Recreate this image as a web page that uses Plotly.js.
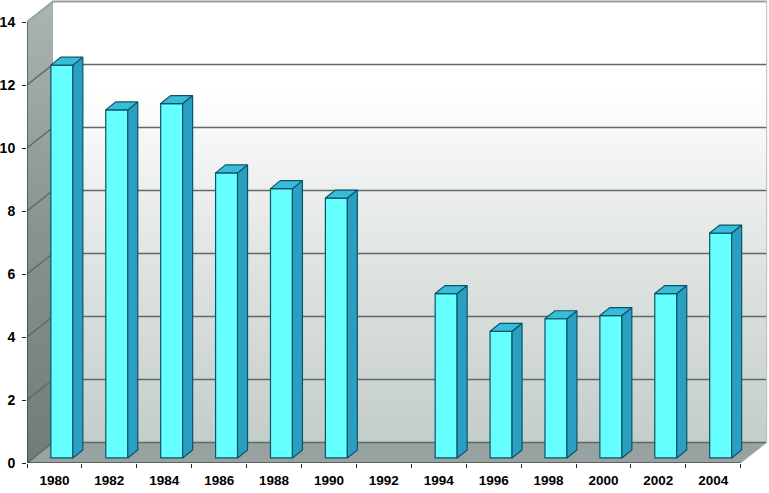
<!DOCTYPE html>
<html><head><meta charset="utf-8">
<script src="https://cdn.plot.ly/plotly-3.0.1.min.js"></script>
<style>html,body{margin:0;padding:0;background:#fff}#c{width:769px;height:493px}</style>
</head><body><div id="c"></div>
<script>
const years=['1980','1982','1984','1986','1988','1990','1992','1994','1996','1998','2000','2002','2004'];
const values=[12.47,11.05,11.25,9.05,8.55,8.25,null,5.22,4.02,4.42,4.52,5.22,7.14];
const yTicks=[0,2,4,6,8,10,12,14];

const xIdx=years.map((_,i)=>i);
const boundaries=years.concat(['']).map((_,i)=>i-0.5);
const pxX=54.9, pxY=31.5;
const depthX=26/pxX, depthY=20.5/pxY;        // wall depth
const barDX=10/pxX, barDY=8/pxY;             // bar depth
const base=0.16, off=-0.065, w=0.4;          // bar base, offset from slot start
const xr=[-0.5,(769-27)/pxX-0.5], yr=[0,463/pxY];
const x0=-0.5,x1=12.5,yTop=14;

function poly(pts){return {x:pts.map(p=>p[0]),y:pts.map(p=>p[1])};}
function wall(pts,fill,extra){const p=poly(pts.concat([pts[0]]));
  return Object.assign({type:'scatter',mode:'lines',x:p.x,y:p.y,fill:'toself',line:{width:0},hoverinfo:'skip',showlegend:false,fillcolor:fill},extra||{});}

const traces=[];
// back wall
traces.push(wall([[x0+depthX,depthY],[x1+depthX,depthY],[x1+depthX,yTop+depthY],[x0+depthX,yTop+depthY]],'#fff',
 {fillgradient:{type:'vertical',colorscale:[[0,'#c3cdca'],[0.45,'#e2e6e5'],[0.8,'#ffffff'],[1,'#ffffff']]}}));
// left wall
traces.push(wall([[x0,0],[x0+depthX,depthY],[x0+depthX,yTop+depthY],[x0,yTop]],'#999',
 {fillgradient:{type:'vertical',colorscale:[[0,'#6f7c79'],[0.5,'#87938f'],[1,'#aab5b4']]}}));
// floor
traces.push(wall([[x0,0],[x1,0],[x1+depthX,depthY],[x0+depthX,depthY]],'#98a2a0'));
// gridlines on walls
const gx=[],gy=[];
yTicks.filter(v=>v<14).forEach(v=>{gx.push(x0,x0+depthX,x1+depthX,null);gy.push(v,v+depthY,v+depthY,null);});
traces.push({type:'scatter',mode:'lines',x:gx,y:gy,line:{color:'#5d6a68',width:1.4},hoverinfo:'skip',showlegend:false});
// top edge of the wall
traces.push({type:'scatter',mode:'lines',x:[x0,x0+depthX,x1+depthX],y:[yTop,yTop+depthY,yTop+depthY],line:{color:'#98a3a1',width:2},hoverinfo:'skip',showlegend:false});
// frame edges
traces.push({type:'scatter',mode:'lines',x:[x1+depthX,x1+depthX,null,x1,x1+depthX],y:[depthY,yTop+depthY,null,0,depthY],
 line:{color:'#b4bdbb',width:1},hoverinfo:'skip',showlegend:false});
// axis lines
traces.push({type:'scatter',mode:'lines',x:[x0,x0,null,x0,x1],y:[yTop,0,null,0,0],line:{color:'#222',width:1},hoverinfo:'skip',showlegend:false});

// bars: front
traces.push({type:'bar',x:xIdx,y:values,base:base,offset:off,width:w,xaxis:'x2',yaxis:'y2',
  marker:{color:'#66ffff',line:{color:'#0a5468',width:1.2}},hoverinfo:'skip',showlegend:false});
// bars: side and top faces
function faces(fn){const X=[],Y=[];values.forEach((v,i)=>{if(v===null)return;
  const l=i+off,r=l+w,t=v+base;
  fn(l,r,t).concat([fn(l,r,t)[0]]).forEach(p=>{X.push(p[0]);Y.push(p[1]);});X.push(null);Y.push(null);});return {X,Y};}
const side=faces((l,r,t)=>[[r,base],[r+barDX,base+barDY],[r+barDX,t+barDY],[r,t]]);
const topf=faces((l,r,t)=>[[l,t],[r,t],[r+barDX,t+barDY],[l+barDX,t+barDY]]);
[[side,'#2b9fc2'],[topf,'#38bcd8']].forEach(([f,c])=>traces.push({type:'scatter',mode:'lines',x:f.X,y:f.Y,fill:'toself',fillcolor:c,
  line:{color:'#0a5468',width:1.2},xaxis:'x2',yaxis:'y2',hoverinfo:'skip',showlegend:false}));

const font={family:'"Liberation Sans",Arial,sans-serif',size:13.5,color:'#000'};
Plotly.newPlot('c',traces,{
  width:769,height:493,showlegend:false,paper_bgcolor:'#fff',plot_bgcolor:'rgba(0,0,0,0)',
  margin:{l:27,r:0,t:0,b:30},
  xaxis:{type:'linear',range:xr,tickmode:'array',tickvals:xIdx,ticktext:years.map(y=>'<b>'+y+'</b>'),ticks:'',showgrid:false,zeroline:false,ticklabelstandoff:7,
    tickfont:font,minor:{tickmode:'array',tickvals:boundaries,ticks:'outside',ticklen:4,tickcolor:'#222',showgrid:false}},
  yaxis:{type:'linear',range:yr,tickmode:'array',tickvals:yTicks,ticktext:yTicks.map(v=>'<b>'+v+'</b>'),ticks:'outside',ticklen:4,tickcolor:'#222',ticklabelstandoff:4,
    showgrid:false,zeroline:false,tickfont:Object.assign({},font,{size:14})},
  xaxis2:{type:'linear',range:xr,overlaying:'x',visible:false},
  yaxis2:{type:'linear',range:yr,overlaying:'y',visible:false}
},{displayModeBar:false,staticPlot:true});
</script></body></html>
